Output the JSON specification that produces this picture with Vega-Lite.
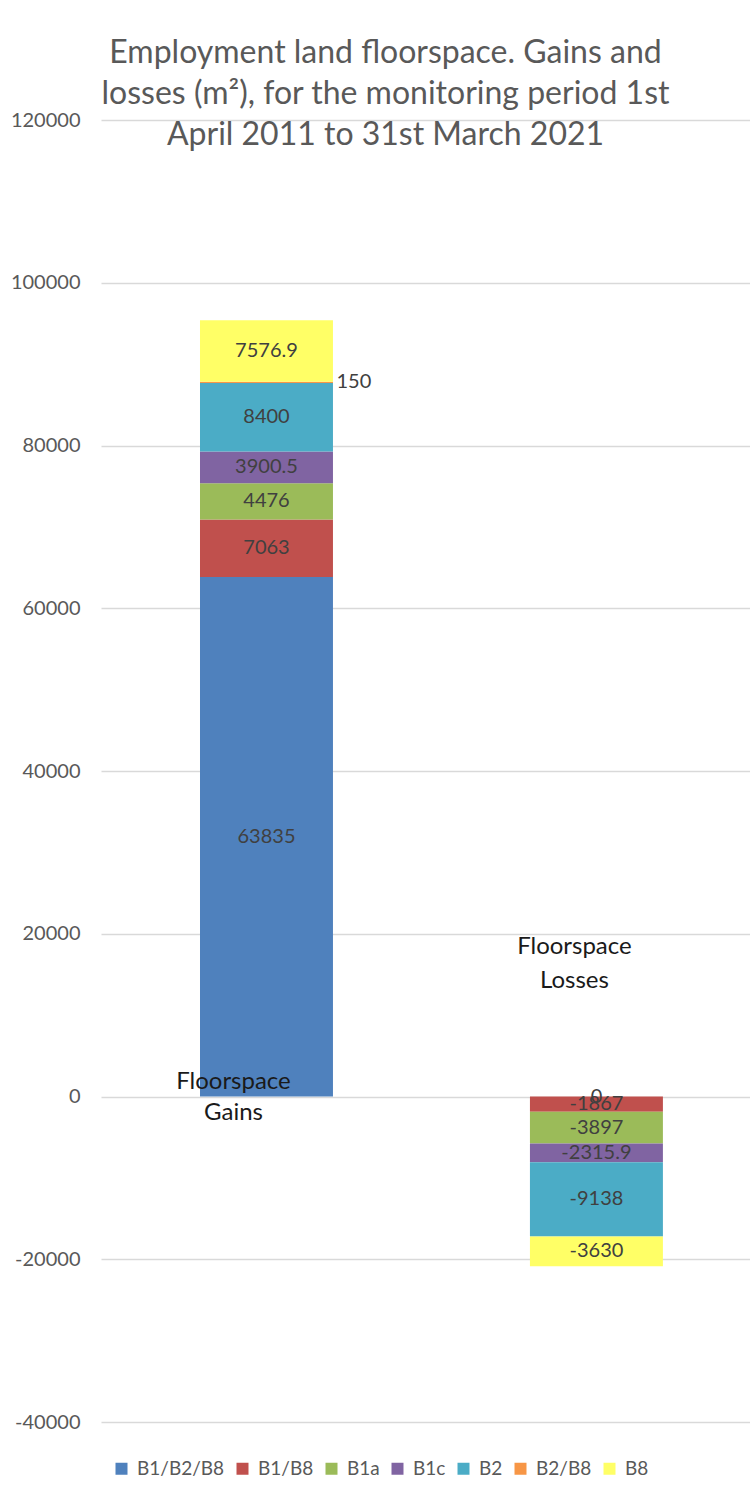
{
  "$schema": "https://vega.github.io/schema/vega-lite/v6.json",
  "autosize": {"type": "none"},
  "padding": {"left": 101, "top": 120, "right": 0, "bottom": 75},
  "width": 649,
  "height": 1302,
  "background": "white",
  "config": {"font": "Lato", "view": {"stroke": null}},
  "title": {
    "text": ["Employment land floorspace. Gains and", "losses (m²), for the monitoring period 1st", "April 2011 to 31st March 2021"],
    "font": "Lato",
    "fontSize": 32,
    "fontWeight": "normal",
    "color": "#595959",
    "lineHeight": 41,
    "anchor": "middle",
    "dx": -40,
    "offset": -42
  },
  "data": {
    "values": [
      {"cat": "Floorspace Gains", "series": "B1/B2/B8", "value": 63835},
      {"cat": "Floorspace Gains", "series": "B1/B8", "value": 7063},
      {"cat": "Floorspace Gains", "series": "B1a", "value": 4476},
      {"cat": "Floorspace Gains", "series": "B1c", "value": 3900.5},
      {"cat": "Floorspace Gains", "series": "B2", "value": 8400},
      {"cat": "Floorspace Gains", "series": "B2/B8", "value": 150},
      {"cat": "Floorspace Gains", "series": "B8", "value": 7576.9},
      {"cat": "Floorspace Losses", "series": "B1/B2/B8", "value": 0},
      {"cat": "Floorspace Losses", "series": "B1/B8", "value": -1867},
      {"cat": "Floorspace Losses", "series": "B1a", "value": -3897},
      {"cat": "Floorspace Losses", "series": "B1c", "value": -2315.9},
      {"cat": "Floorspace Losses", "series": "B2", "value": -9138},
      {"cat": "Floorspace Losses", "series": "B8", "value": -3630}
    ]
  },
  "encoding": {
    "x": {
      "field": "cat",
      "type": "nominal",
      "sort": ["Floorspace Gains", "Floorspace Losses"],
      "scale": {"paddingInner": 0.597, "paddingOuter": 0.282, "align": 0.532},
      "axis": null
    }
  },
  "layer": [
    {
      "mark": {"type": "bar"},
      "encoding": {
        "y": {
          "field": "value",
          "type": "quantitative",
          "stack": "zero",
          "scale": {"domain": [-40000, 120000], "nice": false, "zero": false},
          "axis": {
            "values": [-40000, -20000, 0, 20000, 40000, 60000, 80000, 100000, 120000],
            "title": null,
            "domain": false,
            "ticks": false,
            "labelPadding": 21,
            "labelFont": "Lato",
            "labelFontSize": 20,
            "labelColor": "#595959",
            "gridColor": "#D9D9D9",
            "gridWidth": 1.5,
            "labelExpr": "'' + datum.value"
          }
        },
        "color": {
          "field": "series",
          "type": "nominal",
          "scale": {
            "domain": ["B1/B2/B8", "B1/B8", "B1a", "B1c", "B2", "B2/B8", "B8"],
            "range": ["#4F81BD", "#C0504D", "#9BBB59", "#8064A2", "#4BACC6", "#F79646", "#FFFF66"]
          },
          "legend": {
            "orient": "none",
            "direction": "horizontal",
            "legendX": 11,
            "legendY": 1339,
            "title": null,
            "padding": 0,
            "symbolType": "square",
            "symbolSize": 144,
            "symbolStrokeWidth": 0,
            "symbolOpacity": 1,
            "labelFont": "Lato",
            "labelFontSize": 19,
            "labelColor": "#595959",
            "labelOffset": 6,
            "columnPadding": 8
          }
        },
        "order": {"field": "series", "type": "ordinal", "sort": "ascending"}
      }
    },
    {
      "mark": {"type": "text", "font": "Lato", "fontSize": 20, "color": "#404040", "baseline": "middle", "align": "center"},
      "encoding": {
        "y": {"field": "value", "type": "quantitative", "stack": "zero", "bandPosition": 0.5},
        "detail": {"field": "series", "type": "nominal"},
        "order": {"field": "series", "type": "ordinal", "sort": "ascending"},
        "text": {
          "condition": {"test": "datum.series === 'B2/B8'", "value": ""},
          "field": "value",
          "type": "nominal"
        }
      }
    },
    {
      "mark": {"type": "text", "font": "Lato", "fontSize": 20, "color": "#404040", "baseline": "middle", "align": "left", "dx": 70},
      "encoding": {
        "y": {"field": "value", "type": "quantitative", "stack": "zero", "bandPosition": 0.5},
        "detail": {"field": "series", "type": "nominal"},
        "order": {"field": "series", "type": "ordinal", "sort": "ascending"},
        "text": {
          "condition": {"test": "datum.series !== 'B2/B8'", "value": ""},
          "field": "value",
          "type": "nominal"
        }
      }
    },
    {
      "data": {"values": [{"cat": "Floorspace Gains"}]},
      "mark": {"type": "text", "font": "Lato", "fontSize": 24, "color": "#1a1a1a", "baseline": "middle", "align": "center", "lineHeight": 31, "dx": -33, "dy": -15},
      "encoding": {
        "y": {"datum": 0},
        "text": {"value": ["Floorspace", "Gains"]}
      }
    },
    {
      "data": {"values": [{"cat": "Floorspace Losses"}]},
      "mark": {"type": "text", "font": "Lato", "fontSize": 24, "color": "#1a1a1a", "baseline": "middle", "align": "center", "lineHeight": 34, "dx": -22, "dy": -15},
      "encoding": {
        "y": {"datum": 16500},
        "text": {"value": ["Floorspace", "Losses"]}
      }
    }
  ]
}
